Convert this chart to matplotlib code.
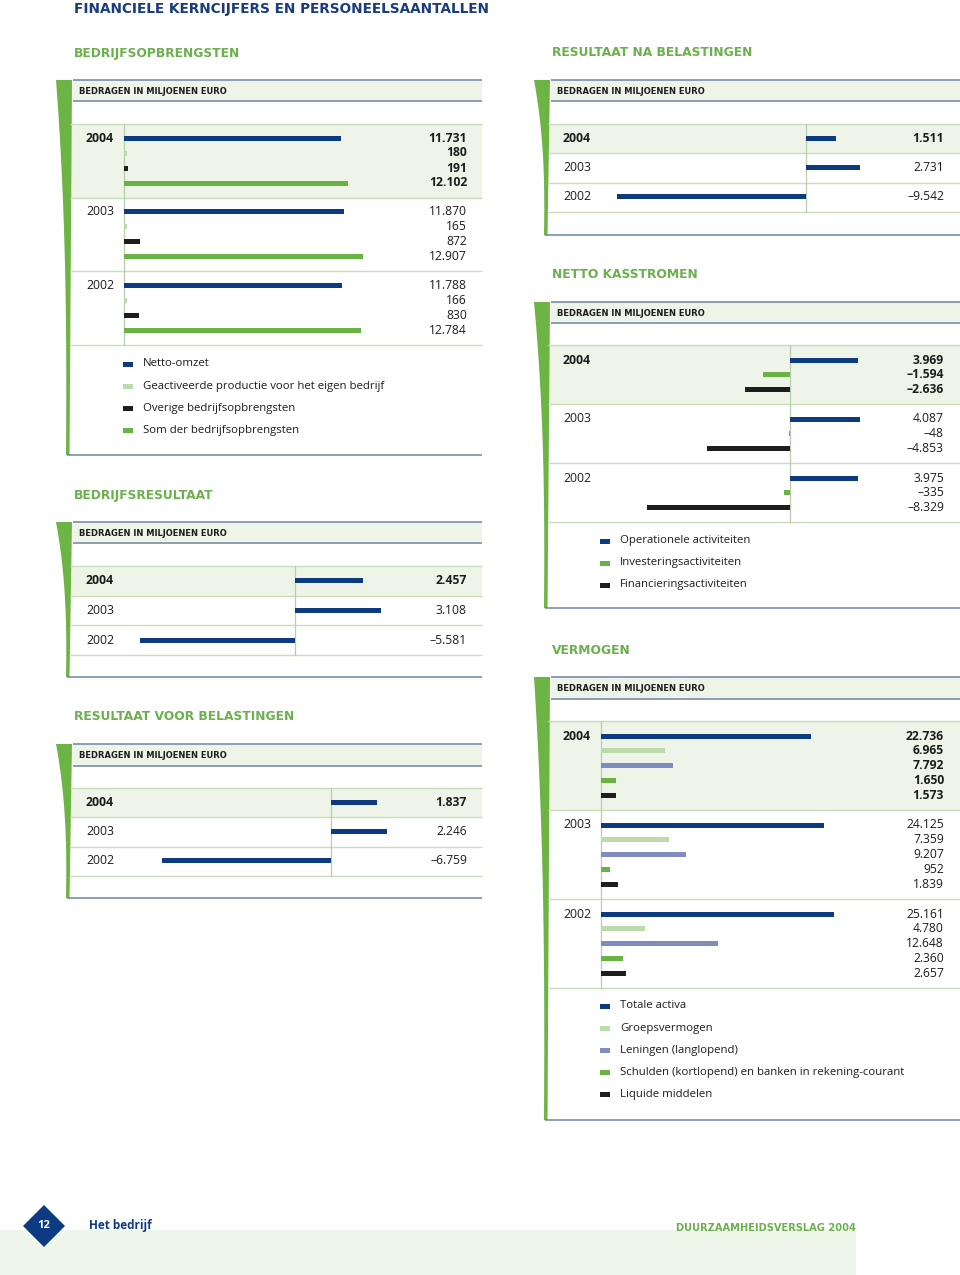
import matplotlib
matplotlib.use("Agg")
import matplotlib.pyplot as plt
from matplotlib.patches import Polygon, Rectangle
import numpy as np

plt.rcParams['font.family'] = ['Open Sans', 'DejaVu Sans']

# ---------------- data ----------------
years = ["2004", "2003", "2002"]

opb_labels = ["Netto-omzet", "Geactiveerde productie voor het eigen bedrijf",
              "Overige bedrijfsopbrengsten", "Som der bedrijfsopbrengsten"]
opb_netto = [11731, 11870, 11788]
opb_geact = [180, 165, 166]
opb_overig = [191, 872, 830]
opb_som = [12102, 12907, 12784]

bedrijfsresultaat = [2457, 3108, -5581]
resultaat_voor = [1837, 2246, -6759]
resultaat_na = [1511, 2731, -9542]

kas_labels = ["Operationele activiteiten", "Investeringsactiviteiten", "Financieringsactiviteiten"]
kas_oper = [3969, 4087, 3975]
kas_inv = [-1594, -48, -335]
kas_fin = [-2636, -4853, -8329]

verm_labels = ["Totale activa", "Groepsvermogen", "Leningen (langlopend)",
               "Schulden (kortlopend) en banken in rekening-courant", "Liquide middelen"]
verm_activa = [22736, 24125, 25161]
verm_groep = [6965, 7359, 4780]
verm_leningen = [7792, 9207, 12648]
verm_schulden = [1650, 952, 2360]
verm_liquide = [1573, 1839, 2657]

# ---------------- style ----------------
NAVY = '#0d3b82'
LGREEN = '#bcdbab'
BLACK = '#1e1e1e'
GREEN = '#69b244'
LAV = '#7f8cbf'
BAND = '#6cb444'
ROWBG = '#eef5e8'
HLINE = '#6d84a6'
RLINE = '#c8ddb9'
VLINE = '#b9ccae'
HEAD = '#6ab04c'
TXT = '#1c1c1c'
WIDE = ['DejaVu Sans']

W, H = 960, 1275
fig = plt.figure(figsize=(9.6, 12.75), dpi=100)
bg = fig.add_axes([0, 0, 1, 1])
bg.set_xlim(0, W)
bg.set_ylim(H, 0)
bg.axis('off')


def fmt(v):
    s = f"{abs(v):,}".replace(',', '.')
    return ('\u2013' if v < 0 else '') + s


def band(xr, top, bottom):
    t = np.linspace(0, 1, 60)
    ys = top + (bottom - top) * t
    right = xr - 2.5 * t
    left = right - (3.5 + 12.5 * (1 - t) ** 2.5)
    pts = list(zip(right, ys)) + list(zip(left[::-1], ys[::-1]))
    bg.add_patch(Polygon(pts, closed=True, fc=BAND, ec='none', zorder=2))


def hline(x0, x1, y, color, lw):
    bg.plot([x0, x1], [y, y], color=color, lw=lw, solid_capstyle='butt', zorder=3)


def panel(x0, x1, band_xr, title, title_y, hdr_top, hdr_bot, table_top, row_h,
          bottom, zero_x, scale, series, colors, off, step, year_x, val_x,
          legend=None, leg_y=None, leg_x=None):
    bg.text(x0 + 1, title_y, title, fontsize=8.8, fontweight='bold', color=HEAD,
            va='center', ha='left', family=WIDE)
    band(band_xr, hdr_top, bottom)
    bg.add_patch(Rectangle((x0, hdr_top), x1 - x0, hdr_bot - hdr_top, fc=ROWBG, ec='none', zorder=1))
    hline(x0, x1, hdr_top, HLINE, 1.1)
    hline(x0, x1, hdr_bot, HLINE, 1.1)
    bg.text(x0 + 6, (hdr_top + hdr_bot) / 2 + 0.5, 'BEDRAGEN IN MILJOENEN EURO', fontsize=6.0,
            fontweight='bold', color=TXT, va='center', ha='left', family=WIDE)
    table_bot = table_top + 3 * row_h
    bg.add_patch(Rectangle((x0 - 3, table_top), x1 - x0 + 3, row_h, fc=ROWBG, ec='none', zorder=1))
    for i in range(4):
        hline(x0 - 3, x1, table_top + i * row_h, RLINE, 1.0)
    bg.plot([zero_x - 0.5, zero_x - 0.5], [table_top, table_bot], color=VLINE, lw=0.9, zorder=3)
    hline(band_xr - 5, x1, bottom, HLINE, 1.1)

    ax = fig.add_axes([(x0 - 3) / W, 1 - table_bot / H, (x1 - x0 + 3) / W, (table_bot - table_top) / H])
    ax.set_xlim((x0 - 3 - zero_x) / scale, (x1 - zero_x) / scale)
    ax.set_ylim(table_bot - table_top, 0)
    ax.axis('off')
    ax.patch.set_alpha(0)
    for yi, yr in enumerate(years):
        weight = 'bold' if yi == 0 else 'normal'
        bg.text(year_x, table_top + yi * row_h + off, yr, fontsize=8.8, fontweight=weight,
                color=TXT, va='center', ha='left', zorder=5)
        for si, (vals, c) in enumerate(zip(series, colors)):
            yy = yi * row_h + off + si * step
            ax.barh(yy, vals[yi], height=5, left=0, color=c, edgecolor='none')
            bg.text(val_x, table_top + yy, fmt(vals[yi]), fontsize=8.7, fontweight=weight,
                    color=TXT, va='center', ha='right', zorder=5)
    if legend:
        for li, (lab, c) in enumerate(zip(legend, colors)):
            ly = leg_y + li * 22
            bg.add_patch(Rectangle((leg_x, ly - 2.5), 10, 5, fc=c, ec='none', zorder=3))
            bg.text(leg_x + 20, ly, lab, fontsize=8.2, color=TXT, va='center', ha='left')


# title
bg.text(74, 8.5, 'FINANCIELE KERNCIJFERS EN PERSONEELSAANTALLEN', fontsize=9.8, fontweight='bold',
        color='#1a3c7c', va='center', ha='left', family=WIDE)

# Bedrijfsopbrengsten
panel(73, 482, 72, 'BEDRIJFSOPBRENGSTEN', 53, 80, 101, 124, 73.7, 455, 124, 0.0185,
      [opb_netto, opb_geact, opb_overig, opb_som], [NAVY, LGREEN, BLACK, GREEN],
      14, 15, 86, 467, legend=opb_labels, leg_y=364, leg_x=123)

# Resultaat na belastingen
panel(551, 960, 550, 'RESULTAAT NA BELASTINGEN', 53, 80, 101, 124, 29.4, 235, 806, 0.0198,
      [resultaat_na], [NAVY], 14, 15, 563, 944)

# Netto kasstromen
panel(551, 960, 550, 'NETTO KASSTROMEN', 274, 302, 323, 345, 59, 608, 790, 0.0172,
      [kas_oper, kas_inv, kas_fin], [NAVY, GREEN, BLACK],
      15, 14.7, 563, 944, legend=kas_labels, leg_y=541, leg_x=600)

# Bedrijfsresultaat
panel(73, 482, 72, 'BEDRIJFSRESULTAAT', 496, 522, 543, 566, 29.7, 677, 295, 0.0277,
      [bedrijfsresultaat], [NAVY], 15, 15, 86, 467)

# Resultaat voor belastingen
panel(73, 482, 72, 'RESULTAAT VOOR BELASTINGEN', 717, 744, 766, 788, 29.4, 898, 331, 0.025,
      [resultaat_voor], [NAVY], 14, 15, 86, 467)

# Vermogen
panel(551, 960, 550, 'VERMOGEN', 651, 677, 699, 721, 89, 1120, 601, 0.00925,
      [verm_activa, verm_groep, verm_leningen, verm_schulden, verm_liquide],
      [NAVY, LGREEN, LAV, GREEN, BLACK],
      15, 14.8, 563, 944, legend=verm_labels, leg_y=1006, leg_x=600)

# footer
bg.add_patch(Rectangle((0, 1230), 856, 45, fc='#eef6ea', ec='none', zorder=1))
bg.add_patch(Polygon([(44, 1205), (65, 1226), (44, 1247), (23, 1226)], closed=True,
                     fc=NAVY, ec='none', zorder=3))
bg.text(44, 1226, '12', fontsize=8, fontweight='bold', color='white', ha='center', va='center', zorder=4)
bg.text(89, 1226, 'Het bedrijf', fontsize=8.5, fontweight='bold', color=NAVY, ha='left', va='center')
bg.text(856, 1228, 'DUURZAAMHEIDSVERSLAG 2004', fontsize=7.1, fontweight='bold', color=HEAD,
        ha='right', va='center', family=WIDE)

fig.savefig('out.png', dpi=100)
